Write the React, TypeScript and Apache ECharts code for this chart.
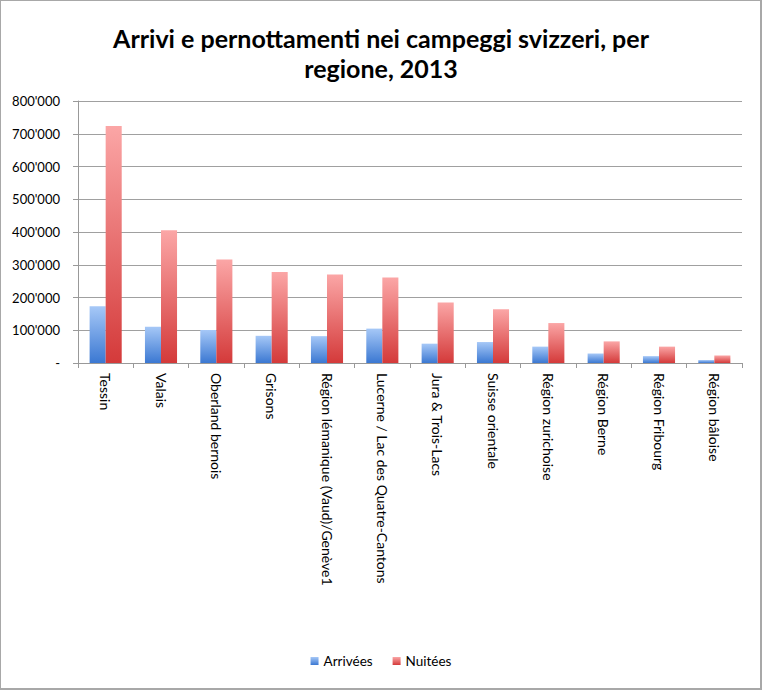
import React, { useEffect, useRef } from "react";
import * as echarts from "echarts";

const categories = [
  "Tessin",
  "Valais",
  "Oberland bernois",
  "Grisons",
  "Région lémanique (Vaud)/Genève1",
  "Lucerne / Lac des Quatre-Cantons",
  "Jura & Trois-Lacs",
  "Suisse orientale",
  "Région zurichoise",
  "Région Berne",
  "Région Fribourg",
  "Région bâloise",
];
const arrivees = [173000, 111000, 101000, 83000, 82000, 105000, 59000, 64000, 50000, 29000, 21000, 9000];
const nuitees = [724000, 405000, 316000, 278000, 270000, 261000, 185000, 164000, 122000, 66000, 50000, 23000];
const seriesNames = ["Arrivées", "Nuitées"];
const titleText = "Arrivi e pernottamenti nei campeggi svizzeri, per\nregione, 2013";

const FONT = "Lato, 'Open Sans', sans-serif";

function fmt(v: number): string {
  if (v === 0) return "-";
  return String(v).replace(/\B(?=(\d{3})+(?!\d))/g, "'");
}

export default function App() {
  const ref = useRef<HTMLDivElement>(null);
  useEffect(() => {
    document.body.style.margin = "0";
    const chart = echarts.init(ref.current!, null, { renderer: "svg" });
    const grad = (top: string, bottom: string) =>
      new echarts.graphic.LinearGradient(0, 0, 0, 1, [
        { offset: 0, color: top },
        { offset: 1, color: bottom },
      ]);
    chart.setOption({
      animation: false,
      backgroundColor: "#ffffff",
      textStyle: { fontFamily: FONT },
      title: {
        text: titleText,
        left: "center",
        top: 18,
        textStyle: {
          fontFamily: FONT,
          fontSize: 25,
          fontWeight: "bold",
          color: "#000000",
          lineHeight: 30,
        },
      },
      graphic: [
        {
          type: "rect",
          shape: { x: 0, y: 0, width: 761, height: 689 },
          style: { fill: "none", stroke: "#a8a8a8", lineWidth: 2 },
          silent: true,
        },
      ],
      legend: {
        bottom: 17,
        left: "center",
        icon: "rect",
        itemWidth: 8,
        itemHeight: 8,
        itemGap: 20,
        textStyle: { fontFamily: FONT, fontSize: 13.5, color: "#000" },
        data: seriesNames,
      },
      grid: { left: 78, right: 20, top: 101, bottom: 327, containLabel: false },
      xAxis: {
        type: "category",
        data: categories,
        axisLine: { lineStyle: { color: "#999999", width: 1 } },
        axisTick: { show: true, length: 5, lineStyle: { color: "#999999" } },
        axisLabel: {
          rotate: -90,
          interval: 0,
          margin: 10,
          fontFamily: FONT,
          fontSize: 14,
          color: "#000",
        },
      },
      yAxis: {
        type: "value",
        min: 0,
        max: 800000,
        interval: 100000,
        axisLine: { show: true, lineStyle: { color: "#999999" } },
        axisTick: { show: true, length: 5, lineStyle: { color: "#999999" } },
        splitLine: { lineStyle: { color: "#a0a0a0", width: 1 } },
        axisLabel: {
          formatter: (v: number) => fmt(v),
          margin: 18,
          fontFamily: FONT,
          fontSize: 13,
          color: "#000",
        },
      },
      series: [
        {
          name: seriesNames[0],
          type: "bar",
          data: arrivees,
          barGap: "0%",
          barCategoryGap: "42%",
          itemStyle: { color: grad("#a6c8f7", "#3b78d2") },
        },
        {
          name: seriesNames[1],
          type: "bar",
          data: nuitees,
          itemStyle: { color: grad("#fba6a6", "#d43a3a") },
        },
      ],
    });
    return () => chart.dispose();
  }, []);
  return <div ref={ref} style={{ width: 762, height: 690 }} />;
}
